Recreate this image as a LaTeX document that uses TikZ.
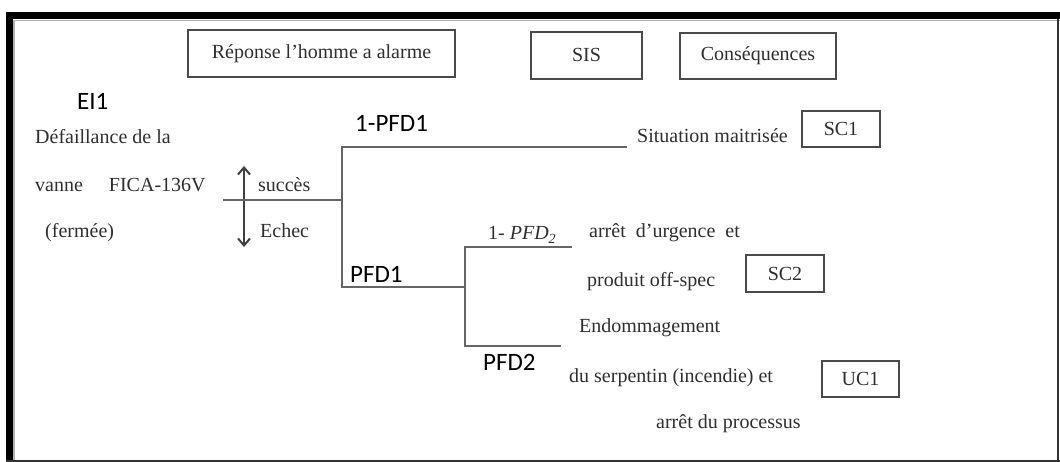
\documentclass[tikz,border=0pt]{standalone}
\usepackage{fontspec}
\setmainfont{Liberation Serif}
\newfontfamily\labelsans{Carlito}
\usetikzlibrary{arrows.meta}
\definecolor{inkgray}{HTML}{2E2E2E}
\definecolor{linegray}{HTML}{666666}
\definecolor{boxgray}{HTML}{4A4A4A}
\tikzset{
  serif/.style={font=\fontsize{20}{22}\selectfont, text=inkgray, inner sep=0pt},
  sanslbl/.style={font=\labelsans\fontsize{25}{27}\selectfont, text=black, inner sep=0pt},
  labelbox/.style={draw=boxgray, line width=1.9pt, rectangle, inner sep=0pt,
    font=\fontsize{20}{22}\selectfont, text=inkgray},
  branch/.style={draw=linegray, line width=2.2pt},
  barb/.tip={Straight Barb[length=7pt,width=12pt,line width=2pt]},
}
\begin{document}
\begin{tikzpicture}[x=1pt, y=-1pt]
\useasboundingbox (0,0) rectangle (1060,462);
% outer frame: heavy top and left rules, thin right and bottom rules
\fill[black] (6,12) rectangle (1060,19);
\fill[black] (6,12) rectangle (13,462);
\draw[gray!60, line width=2pt] (14,20) -- (14,462);
\draw[gray!60, line width=1.5pt] (14,20.5) -- (1060,20.5);
\draw[black!80, line width=2.5pt] (1058,19) -- (1058,462);
\draw[black!80, line width=2pt] (6,461) -- (1060,461);

% column headers
\node[labelbox, minimum width=267pt, minimum height=47pt] (resp) at (321.5,53.5) {Réponse l’homme a alarme};
\node[labelbox, minimum width=111pt, minimum height=47pt] (sis) at (586.5,55.5) {\raisebox{2pt}{SIS}};
\node[labelbox, minimum width=156pt, minimum height=46pt] (cons) at (758,56) {Conséquences};

% initiating event
\node[sanslbl, anchor=base west] (ei) at (77,110) {EI1};
\node[serif, anchor=base west] (ie1) at (35,144) {Défaillance de la};
\node[serif, anchor=base west] (ie2) at (35,192) {vanne\hspace{26pt}FICA-136V};
\node[serif, anchor=base west] (ie3) at (45,238) {(fermée)};

% success / failure indicator
\coordinate (up) at (244,166);
\coordinate (down) at (244,247);
\draw[black!75, line width=2.2pt, {barb}-{barb}] (up) -- (down);
\node[serif, anchor=base west] (succ) at (258,192) {succès};
\node[serif, anchor=base west] (ech) at (260,238) {Echec};

% event tree skeleton
\coordinate (start) at (223,200);
\coordinate (j1) at (342,200);
\coordinate (t1) at (342,147);
\coordinate (b1) at (342,287);
\coordinate (e1) at (627,147);
\coordinate (j2) at (465,287);
\coordinate (t2) at (465,247);
\coordinate (b2) at (465,346);
\coordinate (e2) at (572,247);
\coordinate (e3) at (561,346);
\draw[branch] (start) -- (j1);
\draw[branch] (e1) -- (t1) -- (b1) -- (j2);
\draw[branch] (e2) -- (t2) -- (b2) -- (e3);

% branch probabilities
\node[sanslbl, anchor=base west] (p1s) at (355,132) {1-PFD1};
\node[sanslbl, anchor=base west] (p1f) at (350,283) {PFD1};
\node[serif, anchor=base west] (p2s) at (488,240) {1- \textit{PFD}\textsubscript{\textit{2}}};
\node[sanslbl, anchor=base west] (p2f) at (483,370) {PFD2};

% consequences
\node[serif, anchor=base west] (c1) at (637,143) {Situation maitrisée};
\node[labelbox, minimum width=78pt, minimum height=36pt] (sc1) at (841,129) {SC1\hspace{8pt}};

\node[serif, anchor=base west] (c2a) at (589,238) {arrêt\hspace{5pt} d’urgence\hspace{5pt} et};
\node[serif, anchor=base west] (c2b) at (587,287) {produit off-spec};
\node[labelbox, minimum width=78pt, minimum height=37pt] (sc2) at (785,273.5) {SC2\hspace{12pt}};

\node[serif, anchor=base west] (c3a) at (579,332) {Endommagement};
\node[serif, anchor=base west] (c3b) at (569,382) {du serpentin (incendie) et};
\node[serif, anchor=base west] (c3c) at (656,428) {arrêt du processus};
\node[labelbox, minimum width=77pt, minimum height=36pt] (uc1) at (860.5,379) {\raisebox{-4pt}{UC1}\hspace{6pt}};
\end{tikzpicture}
\end{document}
